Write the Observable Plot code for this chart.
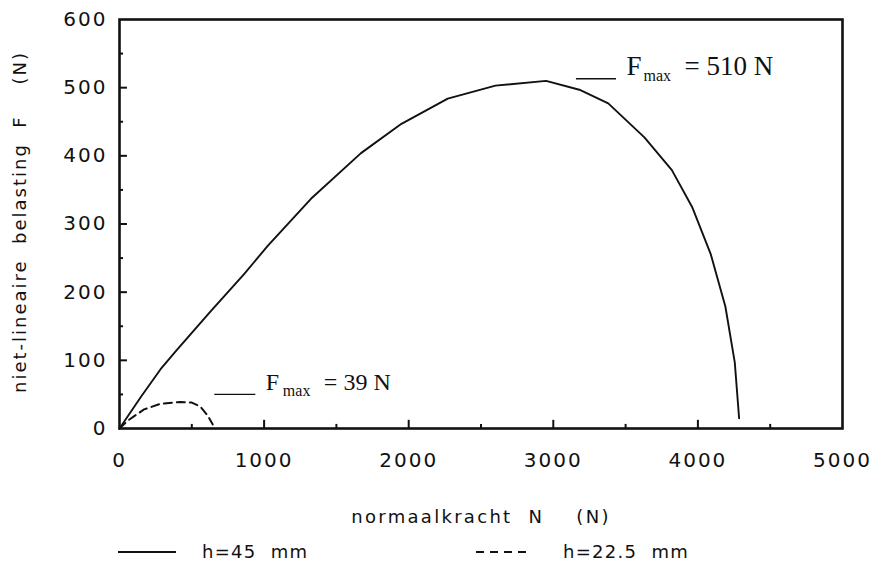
<!DOCTYPE html>
<html>
<head>
<meta charset="utf-8">
<script src="https://cdn.jsdelivr.net/npm/d3@7"></script>
<script src="https://cdn.jsdelivr.net/npm/@observablehq/plot@0.6"></script>
<style>
  html, body { margin: 0; padding: 0; background: #fff; }
  #legend { position: relative; width: 875px; height: 37px; }
</style>
</head>
<body>
<div id="chart"></div>
<div id="legend"></div>
<script>
// ---- data ----
const nH45 = [0, 150, 284, 400, 630, 860, 1025, 1324, 1670, 1950, 2270, 2600, 2950, 3180, 3380, 3630, 3820, 3960, 4090, 4190, 4255, 4285];
const fH45 = [0, 47, 87, 116, 172, 226, 268, 337, 404, 447, 484, 503, 510, 497, 477, 427, 379, 325, 255, 179, 97, 15];
const nH225 = [0, 60, 170, 280, 420, 500, 560, 610, 645];
const fH225 = [0, 12, 28, 36, 39, 38, 32, 19, 6];

const xTicks = [0, 1000, 2000, 3000, 4000, 5000];
const xMinor = [500, 1500, 2500, 3500, 4500];
const yTicks = [0, 100, 200, 300, 400, 500, 600];
const yMinor = [50, 150, 250, 350, 450, 550];

const xLabel = "normaalkracht  N    (N)";
const yLabel = "niet-lineaire  belasting  F    (N)";

const annoStart = [3160, 659];
const annoEnd = [3437, 943];
const annoY = [513, 50];
const annoValue = ["= 510 N", "= 39 N"];
const annoSize = [27, 24];

const legendLabels = ["h=45  mm", "h=22.5  mm"];

// ---- tables ----
const h45 = nH45.map((n, i) => ({n, f: fH45[i]}));
const h225 = nH225.map((n, i) => ({n, f: fH225[i]}));
const annos = annoStart.map((s, i) => ({x1: s, x2: annoEnd[i], y: annoY[i], v: annoValue[i], s: annoSize[i]}));

const ink = "#111";
const sans = "'DejaVu Sans', sans-serif";
const serif = "'Liberation Serif', 'DejaVu Serif', serif";

const chart = Plot.plot({
  width: 875,
  height: 530,
  marginLeft: 119,
  marginRight: 33,
  marginTop: 19,
  marginBottom: 102,
  style: {fontFamily: sans, fontSize: "20px", color: ink, background: "#fff"},
  x: {domain: [0, 5000]},
  y: {domain: [0, 600]},
  marks: [
    Plot.axisX({ticks: xTicks, tickSize: 0, tickPadding: 24, tickFormat: "d", label: null, fontSize: 20}),
    Plot.axisY({ticks: yTicks, tickSize: 0, tickPadding: 12, tickFormat: "d", label: null, fontSize: 20}),
    // inward ticks
    Plot.ruleX(xTicks.slice(1, -1), {y1: 0, y2: 12, stroke: ink, strokeWidth: 2}),
    Plot.ruleX(xMinor, {y1: 0, y2: 6, stroke: ink, strokeWidth: 2}),
    Plot.ruleY(yTicks.slice(1, -1), {x1: 0, x2: 55, stroke: ink, strokeWidth: 2}),
    Plot.ruleY(yMinor, {x1: 0, x2: 28, stroke: ink, strokeWidth: 2}),
    Plot.frame({stroke: ink, strokeWidth: 2.6}),
    // curves
    Plot.line(h45, {x: "n", y: "f", stroke: ink, strokeWidth: 1.9}),
    Plot.line(h225, {x: "n", y: "f", stroke: ink, strokeWidth: 2, strokeDasharray: "8,5"}),
    // annotations
    Plot.ruleY(annos, {y: "y", x1: "x1", x2: "x2", stroke: ink, strokeWidth: 1.4}),
    Plot.text(annos, {x: "x2", y: "y", text: () => "F", dx: 10, dy: -4, textAnchor: "start", lineAnchor: "bottom", fontFamily: serif, fontSize: d => d.s, fill: ink}),
    Plot.text(annos, {x: "x2", y: "y", text: () => "max", dx: 27, dy: 2, textAnchor: "start", lineAnchor: "bottom", fontFamily: serif, fontSize: 16, fill: ink}),
    Plot.text(annos, {x: "x2", y: "y", text: "v", dx: 68, dy: -4, textAnchor: "start", lineAnchor: "bottom", fontFamily: serif, fontSize: d => d.s, fill: ink}),
    // axis titles
    Plot.text([xLabel], {frameAnchor: "bottom", text: d => d, dy: 89, textAnchor: "middle", lineAnchor: "middle", fontSize: 18, fill: ink}),
    Plot.text([yLabel], {frameAnchor: "left", text: d => d, rotate: -90, dx: -99, dy: -2, textAnchor: "middle", lineAnchor: "middle", fontSize: 18, fill: ink})
  ]
});
document.getElementById("chart").appendChild(chart);

// letter spacing to mimic the wide typewriter-style lettering
d3.select(chart).selectAll("g[aria-label='x-axis tick label'] text, g[aria-label='y-axis tick label'] text")
  .style("letter-spacing", "2px");
d3.select(chart).selectAll("g[aria-label='text'] text").each(function() {
  const t = d3.select(this).text();
  if (t === xLabel) d3.select(this).style("letter-spacing", "2.3px").style("white-space", "pre");
  if (t === yLabel) d3.select(this).style("letter-spacing", "2px").style("white-space", "pre");
});

// ---- legend (below the svg) ----
const lg = d3.select("#legend").append("svg").attr("width", 875).attr("height", 37);
const items = [
  {x0: 118, x1: 176, tx: 202, dash: null, label: legendLabels[0]},
  {x0: 476, x1: 529, tx: 563, dash: "8,6", label: legendLabels[1]}
];
items.forEach(it => {
  lg.append("line").attr("x1", it.x0).attr("x2", it.x1).attr("y1", 22).attr("y2", 22)
    .attr("stroke", ink).attr("stroke-width", 1.8).attr("stroke-dasharray", it.dash);
  lg.append("text").attr("x", it.tx).attr("y", 28).attr("font-family", sans).attr("font-size", 18)
    .attr("fill", ink).style("letter-spacing", "1.3px").style("white-space", "pre").text(it.label);
});
</script>
</body>
</html>
